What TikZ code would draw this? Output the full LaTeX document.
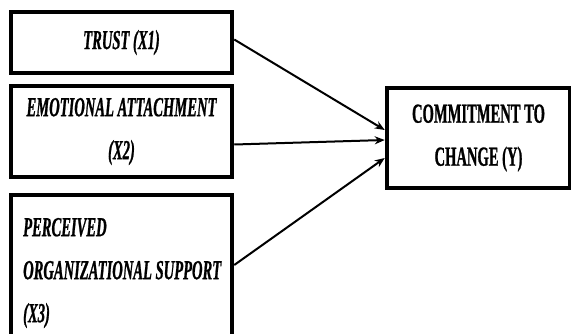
\documentclass[tikz,border=0pt]{standalone}
\usepackage{fontspec}
\setmainfont{Liberation Serif}[FakeStretch=0.53,BoldFeatures={FakeBold=0.8},BoldItalicFeatures={FakeBold=0.8}]
\usetikzlibrary{arrows.meta,calc}
\begin{document}
\begin{tikzpicture}[x=1pt,y=-1pt,
  box/.style={draw=black,line width=4.5pt,fill=white,inner sep=0pt,
    font=\fontsize{27.5}{43}\selectfont\bfseries},
  arr/.style={line width=2pt,-{Stealth[length=10pt,width=8pt]}}]
\useasboundingbox (0,0) rectangle (571,333);
\node[box,minimum width=221pt,minimum height=61pt] (x1) at (121.5,42.5) {\itshape TRUST (X1)};
\node[box,minimum width=221pt,minimum height=91pt,align=center] (x2) at (121.5,131.5) {\itshape EMOTIONAL ATTACHMENT\\\itshape (X2)};
\node[box,minimum width=221pt,minimum height=150pt] (x3) at (121.5,270) {};
\node[font=\fontsize{27.5}{43}\selectfont\bfseries\itshape,align=left,anchor=west,inner sep=0pt] (x3t) at (23,273) {PERCEIVED\\ORGANIZATIONAL SUPPORT\\(X3)};
\node[box,minimum width=183pt,minimum height=100pt,align=center] (y) at (478.5,138) {COMMITMENT TO\\CHANGE (Y)};
\coordinate (e1) at ($(y.west)+(0,-8)$);
\coordinate (e2) at ($(y.west)+(0,2)$);
\coordinate (e3) at ($(y.west)+(0,20)$);
\draw[arr] ($(x1.east)+(0,-3)$) -- (e1);
\draw[arr] ($(x2.east)+(0,13)$) -- (e2);
\draw[arr] ($(x3.east)+(0,-5)$) -- (e3);
\end{tikzpicture}
\end{document}
